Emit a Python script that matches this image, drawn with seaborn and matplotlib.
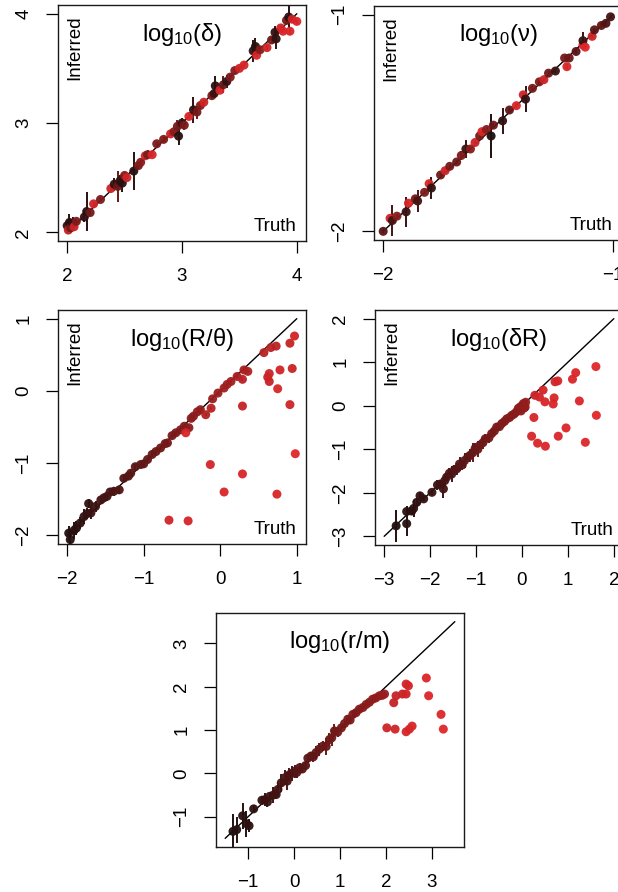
import matplotlib
matplotlib.use("Agg")
import matplotlib.pyplot as plt
from matplotlib.colors import LinearSegmentedColormap
import numpy as np
import pandas as pd
import seaborn as sns

# ---- panel 1: log10(delta) ----
p1_truth = [2.00, 2.01, 2.02, 2.03, 2.05, 2.06, 2.08, 2.15, 2.17, 2.20, 2.23, 2.29,
            2.38, 2.41, 2.44, 2.46, 2.48, 2.50, 2.52, 2.58, 2.62, 2.64, 2.68, 2.70,
            2.74, 2.78, 2.84, 2.90, 2.93, 2.96, 2.97, 3.00, 3.02, 3.06, 3.10, 3.13,
            3.16, 3.19, 3.26, 3.28, 3.29, 3.33, 3.36, 3.39, 3.42, 3.46, 3.50, 3.54,
            3.62, 3.64, 3.65, 3.68, 3.74, 3.78, 3.81, 3.82, 3.86, 3.88, 3.91, 3.93,
            3.94, 3.96, 4.00]
p1_inferred = [2.06, 2.02, 2.09, 2.04, 2.08, 2.05, 2.10, 2.14, 2.19, 2.18, 2.26, 2.30,
               2.40, 2.44, 2.42, 2.47, 2.45, 2.52, 2.50, 2.56, 2.61, 2.64, 2.70, 2.71,
               2.71, 2.81, 2.85, 2.90, 2.92, 2.97, 2.88, 3.00, 2.98, 3.06, 3.12, 3.10,
               3.16, 3.19, 3.25, 3.27, 3.34, 3.30, 3.35, 3.38, 3.42, 3.48, 3.50, 3.53,
               3.66, 3.70, 3.62, 3.67, 3.69, 3.76, 3.83, 3.77, 3.87, 3.84, 3.94, 3.97,
               3.84, 3.95, 3.93]
p1_err = [0.05, 0.02, 0.08, 0.03, 0.06, 0.02, 0.02, 0.05, 0.18, 0.03, 0.02, 0.02,
          0.02, 0.06, 0.14, 0.05, 0.08, 0.03, 0.02, 0.17, 0.03, 0.02, 0.02, 0.04,
          0.02, 0.02, 0.02, 0.02, 0.02, 0.06, 0.08, 0.05, 0.04, 0.02, 0.12, 0.06,
          0.03, 0.02, 0.03, 0.03, 0.09, 0.02, 0.08, 0.06, 0.03, 0.02, 0.02, 0.02,
          0.10, 0.08, 0.02, 0.03, 0.02, 0.04, 0.06, 0.09, 0.02, 0.02, 0.04, 0.10,
          0.03, 0.02, 0.02]
p1_shade = [0.10, 0.85, 0.05, 0.45, 0.10, 0.90, 0.50, 0.10, 0.05, 0.45, 0.90, 0.50,
            0.90, 0.10, 0.40, 0.10, 0.05, 0.55, 0.90, 0.05, 0.45, 0.55, 0.90, 0.50,
            0.95, 0.50, 0.50, 0.90, 0.55, 0.45, 0.05, 0.10, 0.50, 0.95, 0.10, 0.45,
            0.55, 0.90, 0.50, 0.15, 0.05, 0.95, 0.40, 0.10, 0.50, 0.55, 0.90, 0.95,
            0.10, 0.05, 0.95, 0.55, 0.90, 0.45, 0.10, 0.10, 0.90, 0.95, 0.45, 0.05,
            0.95, 0.90, 0.95]

# ---- panel 2: log10(nu) ----
p2_truth = [-2.00, -1.97, -1.96, -1.94, -1.90, -1.89, -1.86, -1.85, -1.82, -1.80,
            -1.79, -1.75, -1.73, -1.71, -1.68, -1.66, -1.64, -1.62, -1.60, -1.58,
            -1.57, -1.55, -1.53, -1.52, -1.48, -1.45, -1.42, -1.39, -1.38, -1.35,
            -1.32, -1.30, -1.28, -1.25, -1.21, -1.20, -1.19, -1.16, -1.13, -1.13,
            -1.12, -1.09, -1.08, -1.05, -1.03, -1.01]
p2_inferred = [-2.00, -1.94, -1.95, -1.93, -1.91, -1.87, -1.85, -1.86, -1.82, -1.78,
               -1.80, -1.74, -1.72, -1.70, -1.68, -1.65, -1.62, -1.62, -1.59, -1.56,
               -1.54, -1.53, -1.56, -1.51, -1.49, -1.44, -1.42, -1.37, -1.39, -1.34,
               -1.31, -1.30, -1.27, -1.26, -1.20, -1.24, -1.20, -1.17, -1.14, -1.12,
               -1.15, -1.10, -1.07, -1.05, -1.04, -1.01]
p2_err = [0.01, 0.01, 0.07, 0.01, 0.07, 0.01, 0.01, 0.05, 0.01, 0.01,
          0.05, 0.01, 0.01, 0.01, 0.01, 0.02, 0.04, 0.01, 0.01, 0.01,
          0.01, 0.01, 0.10, 0.01, 0.06, 0.01, 0.01, 0.01, 0.06, 0.01,
          0.01, 0.01, 0.01, 0.01, 0.01, 0.01, 0.01, 0.01, 0.01, 0.04,
          0.01, 0.01, 0.01, 0.01, 0.01, 0.01]
p2_shade = [0.30, 0.90, 0.20, 0.55, 0.15, 0.95, 0.45, 0.20, 0.50, 0.95,
            0.10, 0.40, 0.90, 0.45, 0.40, 0.50, 0.15, 0.55, 0.90, 0.45,
            0.95, 0.55, 0.00, 0.40, 0.10, 0.35, 0.95, 0.90, 0.10, 0.45,
            0.50, 0.90, 0.40, 0.15, 0.45, 0.95, 0.40, 0.30, 0.95, 0.15,
            1.00, 0.90, 0.30, 0.35, 0.25, 0.20]

# ---- panel 3: log10(R/theta) ----
p3_truth = [-1.98, -1.96, -1.91, -1.88, -1.83, -1.78, -1.74, -1.72, -1.69, -1.63,
            -1.56, -1.52, -1.48, -1.44, -1.39, -1.32, -1.26, -1.20, -1.17, -1.11,
            -1.04, -1.00, -0.95, -0.89, -0.84, -0.78, -0.72, -0.69, -0.63, -0.58,
            -0.52, -0.47, -0.41, -0.38, -0.35, -0.30, -0.26, -0.19, -0.12, -0.10,
            -0.03, 0.05, 0.09, 0.14, 0.22, 0.29, 0.31, 0.36,
            -0.67, -0.42, -0.13, 0.05, 0.29, 0.29, 0.75, 0.74, 0.98, 0.91,
            0.94, 0.78, 0.62, 0.64, 0.64, 0.97, 0.91, 0.73, 0.66, 0.57, -0.45]
p3_inferred = [-1.97, -2.06, -1.93, -1.90, -1.83, -1.74, -1.70, -1.56, -1.69, -1.60,
               -1.51, -1.48, -1.46, -1.40, -1.39, -1.37, -1.21, -1.18, -1.14, -1.05,
               -1.02, -1.01, -0.95, -0.88, -0.84, -0.79, -0.73, -0.72, -0.62, -0.58,
               -0.54, -0.49, -0.51, -0.38, -0.35, -0.29, -0.26, -0.33, -0.24, -0.11,
               -0.03, 0.04, 0.09, 0.13, 0.20, 0.16, 0.29, 0.27,
               -1.79, -1.80, -1.02, -1.40, -1.15, -0.21, 0.03, -1.43, -0.87, -0.19,
               0.31, 0.29, 0.19, 0.13, 0.24, 0.76, 0.66, 0.62, 0.60, 0.53, -0.58]
p3_err = [0.10, 0.12, 0.12, 0.10, 0.08, 0.10, 0.08, 0.06, 0.08, 0.08,
          0.06, 0.05, 0.06, 0.05, 0.06, 0.06, 0.05, 0.05, 0.05, 0.04,
          0.04, 0.04, 0.04, 0.03, 0.03, 0.03, 0.03, 0.03, 0.03, 0.03,
          0.03, 0.02, 0.02, 0.02, 0.02, 0.02, 0.02, 0.02, 0.02, 0.02,
          0.02, 0.02, 0.02, 0.02, 0.02, 0.02, 0.02, 0.02,
          0.0, 0.0, 0.0, 0.0, 0.0, 0.0, 0.0, 0.0, 0.0, 0.0,
          0.0, 0.0, 0.0, 0.0, 0.0, 0.0, 0.0, 0.0, 0.0, 0.0, 0.0]
p3_shade = [0.02, 0.03, 0.05, 0.06, 0.08, 0.10, 0.11, 0.08, 0.14, 0.16,
            0.18, 0.19, 0.20, 0.22, 0.24, 0.25, 0.27, 0.28, 0.30, 0.32,
            0.34, 0.35, 0.37, 0.38, 0.40, 0.42, 0.44, 0.45, 0.47, 0.48,
            0.50, 0.52, 0.56, 0.55, 0.56, 0.58, 0.60, 0.75, 0.78, 0.63,
            0.64, 0.66, 0.67, 0.68, 0.70, 0.80, 0.72, 0.74,
            0.92, 0.94, 0.93, 0.96, 0.95, 0.85, 0.95, 0.96, 1.00, 0.90,
            0.88, 0.92, 0.85, 0.88, 0.90, 0.92, 0.85, 0.82, 0.80, 0.78, 0.95]

# ---- panel 4: log10(delta R) ----
p4_truth = [-2.74, -2.51, -2.51, -2.40, -2.36, -2.29, -2.22, -2.14, -1.96, -1.84,
            -1.78, -1.71, -1.68, -1.64, -1.58, -1.53, -1.47, -1.42, -1.36, -1.30,
            -1.25, -1.18, -1.13, -1.07, -1.02, -0.96, -0.91, -0.85, -0.80, -0.72,
            -0.66, -0.60, -0.55, -0.49, -0.44, -0.38, -0.33, -0.27, -0.22, -0.17,
            -0.12, -0.08, -0.04, -0.02, 0.00, 0.03, 0.05, 0.07, 0.08,
            0.28, 0.38, 0.46, 0.50, 0.26, 0.21, 0.34, 0.51, 0.72, 0.78,
            0.70, 0.68, 0.79, 0.96, 1.10, 1.17, 1.25, 1.38, 1.61, 1.62]
p4_inferred = [-2.76, -2.71, -2.43, -2.42, -2.36, -2.22, -2.07, -2.14, -1.99, -1.82,
               -1.80, -1.91, -1.72, -1.64, -1.55, -1.57, -1.47, -1.45, -1.34, -1.36,
               -1.26, -1.18, -1.14, -1.08, -0.98, -1.00, -0.90, -0.85, -0.76, -0.74,
               -0.64, -0.58, -0.49, -0.48, -0.41, -0.36, -0.30, -0.27, -0.22, -0.19,
               -0.14, -0.06, -0.03, -0.12, 0.00, 0.05, -0.05, -0.03, 0.08,
               0.24, 0.20, 0.36, 0.09, -0.27, -0.70, -0.86, -0.93, 0.55, 0.57,
               0.18, 0.04, -0.70, -0.51, 0.61, 0.76, 0.11, -0.84, 0.90, -0.22]
p4_err = [0.36, 0.28, 0.12, 0.10, 0.20, 0.10, 0.08, 0.06, 0.05, 0.12,
          0.10, 0.20, 0.15, 0.10, 0.12, 0.18, 0.10, 0.14, 0.16, 0.12,
          0.18, 0.10, 0.15, 0.22, 0.12, 0.18, 0.10, 0.14, 0.10, 0.12,
          0.10, 0.08, 0.10, 0.08, 0.07, 0.06, 0.06, 0.05, 0.05, 0.05,
          0.04, 0.04, 0.04, 0.04, 0.04, 0.03, 0.03, 0.03, 0.03,
          0.0, 0.0, 0.0, 0.0, 0.0, 0.0, 0.0, 0.0, 0.0, 0.0,
          0.0, 0.0, 0.0, 0.0, 0.0, 0.0, 0.0, 0.0, 0.0, 0.0]
p4_shade = [0.02, 0.04, 0.05, 0.06, 0.07, 0.08, 0.09, 0.10, 0.12, 0.15,
            0.17, 0.18, 0.20, 0.21, 0.23, 0.24, 0.26, 0.27, 0.29, 0.30,
            0.32, 0.33, 0.35, 0.36, 0.38, 0.39, 0.40, 0.42, 0.43, 0.44,
            0.46, 0.47, 0.48, 0.49, 0.50, 0.51, 0.52, 0.53, 0.54, 0.55,
            0.56, 0.57, 0.58, 0.58, 0.59, 0.60, 0.60, 0.61, 0.62,
            0.90, 0.92, 0.93, 0.95, 0.94, 0.95, 0.96, 0.97, 0.93, 0.94,
            0.95, 0.96, 0.97, 0.98, 0.95, 0.96, 0.97, 0.98, 1.00, 1.00]

# ---- panel 5: log10(r/m) ----
p5_truth = [-1.33, -1.25, -1.12, -1.04, -0.98, -0.88, -0.70, -0.64, -0.58, -0.53,
            -0.45, -0.39, -0.35, -0.28, -0.20, -0.15, -0.10, -0.04, 0.01, 0.06,
            0.12, 0.18, 0.25, 0.30, 0.37, 0.42, 0.48, 0.55, 0.63, 0.70,
            0.77, 0.82, 0.88, 0.95, 1.03, 1.10, 1.17, 1.22, 1.28, 1.35,
            1.42, 1.50, 1.57, 1.64, 1.71, 1.78, 1.86, 1.92, 1.97,
            2.02, 2.20, 2.17, 2.22, 2.36, 2.44, 2.44, 2.49, 2.44, 2.51,
            2.57, 2.88, 2.93, 3.20, 3.25]
p5_inferred = [-1.34, -1.30, -0.98, -1.16, -1.21, -0.82, -0.62, -0.61, -0.66, -0.53,
               -0.50, -0.49, -0.37, -0.22, -0.10, -0.18, -0.03, 0.00, 0.05, 0.02,
               0.13, 0.10, 0.18, 0.35, 0.40, 0.38, 0.48, 0.56, 0.63, 0.62,
               0.78, 0.82, 0.98, 0.95, 1.05, 1.15, 1.25, 1.23, 1.36, 1.40,
               1.48, 1.52, 1.59, 1.64, 1.71, 1.74, 1.79, 1.80, 1.83,
               1.05, 1.02, 1.63, 1.79, 1.83, 1.83, 2.06, 2.02, 0.96, 1.02,
               1.09, 2.20, 1.79, 1.36, 1.02]
p5_err = [0.40, 0.30, 0.30, 0.30, 0.15, 0.08, 0.10, 0.15, 0.12, 0.10,
          0.18, 0.10, 0.15, 0.20, 0.18, 0.20, 0.15, 0.18, 0.15, 0.12,
          0.12, 0.10, 0.08, 0.10, 0.10, 0.12, 0.15, 0.15, 0.12, 0.20,
          0.15, 0.18, 0.15, 0.12, 0.10, 0.10, 0.08, 0.08, 0.08, 0.06,
          0.06, 0.05, 0.05, 0.04, 0.04, 0.04, 0.04, 0.04, 0.03,
          0.0, 0.0, 0.0, 0.0, 0.0, 0.0, 0.0, 0.0, 0.0, 0.0,
          0.0, 0.0, 0.0, 0.0, 0.0]
p5_shade = [0.02, 0.03, 0.05, 0.06, 0.07, 0.09, 0.12, 0.13, 0.14, 0.15,
            0.17, 0.18, 0.19, 0.20, 0.22, 0.23, 0.24, 0.25, 0.26, 0.27,
            0.28, 0.29, 0.30, 0.32, 0.33, 0.34, 0.35, 0.37, 0.38, 0.39,
            0.41, 0.42, 0.43, 0.44, 0.46, 0.47, 0.48, 0.49, 0.50, 0.51,
            0.53, 0.54, 0.55, 0.57, 0.58, 0.59, 0.60, 0.62, 0.63,
            0.90, 0.92, 0.85, 0.86, 0.88, 0.90, 0.93, 0.93, 0.94, 0.95,
            0.95, 0.97, 0.97, 0.98, 1.00]

titles = ["log$_{10}$(\u03b4)", "log$_{10}$(\u03bd)", "log$_{10}$(R/\u03b8)",
          "log$_{10}$(\u03b4R)", "log$_{10}$(r/m)"]

sns.set_style("ticks")
plt.rcParams["font.family"] = ["Liberation Sans", "DejaVu Sans"]
plt.rcParams["mathtext.default"] = "regular"
plt.rcParams["text.color"] = "black"
plt.rcParams["xtick.color"] = "black"
plt.rcParams["ytick.color"] = "black"

# dark brown-black -> deep red -> bright red
cmap = LinearSegmentedColormap.from_list("truthred", ["#1f0f0f", "#7e1a1a", "#e0262a"])


def px_box(left, top, w, h):
    # pixel box (from top-left) -> figure fraction
    return [left / 618, 1 - (top + h) / 892, w / 618, h / 892]


def draw_panel(ax, truth, inferred, err, shade, lo, hi, ticks, title, corner=True):
    df = pd.DataFrame({"truth": truth, "inferred": inferred, "err": err, "shade": shade})
    ax.plot([lo, hi], [lo, hi], color="black", lw=1.0, zorder=1)
    bars = df[df.err > 0]
    ax.vlines(bars.truth, bars.inferred - bars.err, bars.inferred + bars.err,
              colors=cmap(bars.shade.values), lw=1.4, zorder=2)
    sns.scatterplot(data=df, x="truth", y="inferred", hue="shade", palette=cmap,
                    hue_norm=(0, 1), s=42, linewidth=0, alpha=0.95, legend=False,
                    ax=ax, zorder=3)
    pad = 0.04 * (hi - lo)
    ax.set_xlim(lo - pad, hi + pad)
    ax.set_ylim(lo - pad, hi + pad)
    ax.set_xticks(ticks)
    ax.set_yticks(ticks)
    ax.set_xlabel("")
    ax.set_ylabel("")
    for s in ax.spines.values():
        s.set_visible(True)
        s.set_linewidth(1.0)
        s.set_color("#1a1a1a")
    ax.tick_params(axis="x", length=8.5, width=0.9, pad=11, labelsize=13.5, direction="out",
                   colors="black")
    ax.tick_params(axis="y", length=8.5, width=0.9, pad=10, labelsize=13.5, direction="out",
                   labelrotation=90, colors="black")
    for lab in ax.get_yticklabels():
        lab.set_va("center")
    ax.text(0.5, 0.875, title, transform=ax.transAxes, ha="center", va="center",
            fontsize=17, color="black")
    if corner:
        ax.text(0.068, 0.955, "Inferred", transform=ax.transAxes, rotation=90,
                ha="center", va="top", fontsize=13.5, color="black")
        ax.text(0.96, 0.025, "Truth", transform=ax.transAxes, ha="right",
                va="bottom", fontsize=13.5, color="black")


fig = plt.figure(figsize=(6.18, 8.92), dpi=100)

ax1 = fig.add_axes(px_box(58, 5, 248, 236))
draw_panel(ax1, p1_truth, p1_inferred, p1_err, p1_shade, 2, 4, [2, 3, 4], titles[0])

ax2 = fig.add_axes(px_box(374, 6, 248, 234))
draw_panel(ax2, p2_truth, p2_inferred, p2_err, p2_shade, -2, -1, [-2, -1], titles[1])

ax3 = fig.add_axes(px_box(58, 310, 248, 234))
draw_panel(ax3, p3_truth, p3_inferred, p3_err, p3_shade, -2, 1, [-2, -1, 0, 1], titles[2])

ax4 = fig.add_axes(px_box(375, 310, 248, 235))
draw_panel(ax4, p4_truth, p4_inferred, p4_err, p4_shade, -3, 2, [-3, -2, -1, 0, 1, 2], titles[3])

ax5 = fig.add_axes(px_box(216, 613, 248, 234))
draw_panel(ax5, p5_truth, p5_inferred, p5_err, p5_shade, -1.5, 3.5, [-1, 0, 1, 2, 3], titles[4],
           corner=False)

fig.savefig("out.png", dpi=100)
